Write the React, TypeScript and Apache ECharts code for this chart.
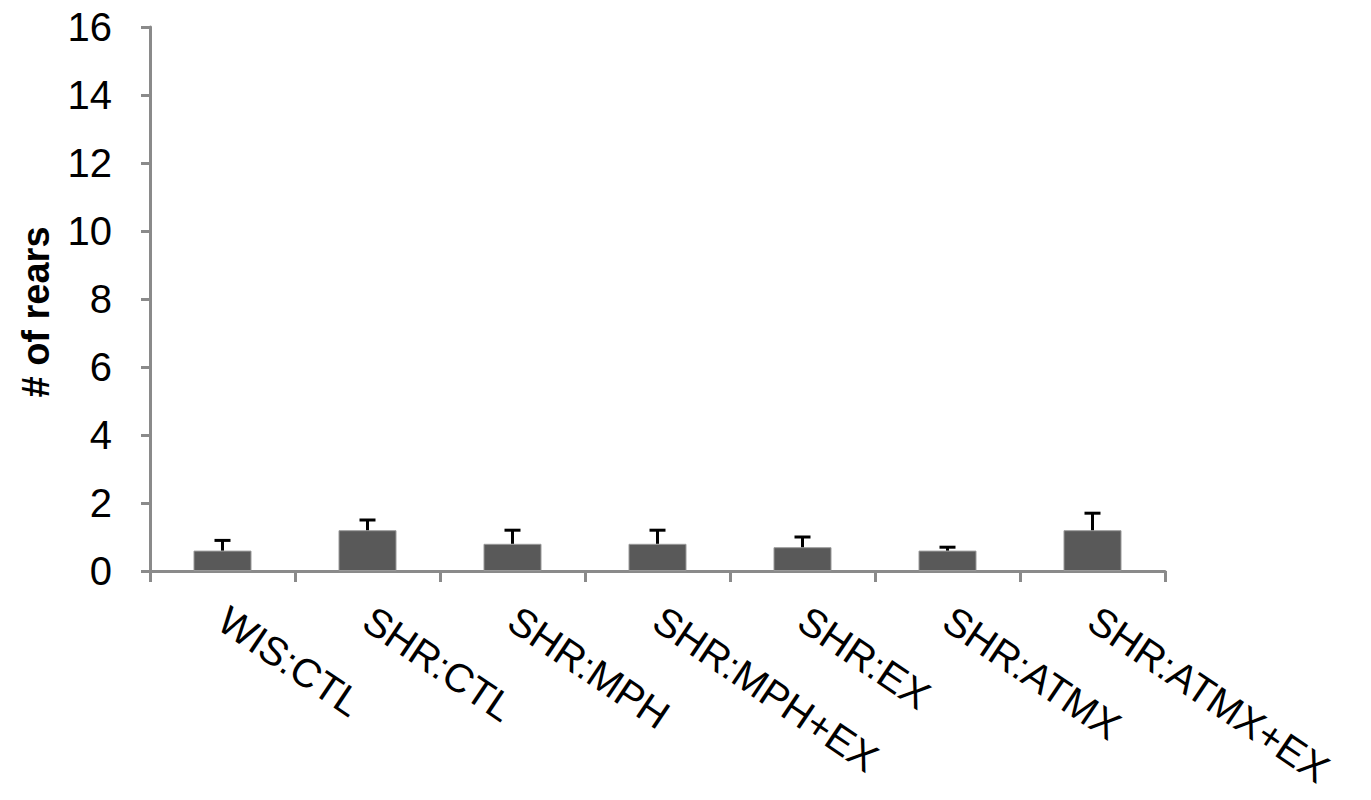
import React, { useEffect, useRef } from "react";
import * as echarts from "echarts";

const categories = ["WIS:CTL", "SHR:CTL", "SHR:MPH", "SHR:MPH+EX", "SHR:EX", "SHR:ATMX", "SHR:ATMX+EX"];
const means = [0.6, 1.2, 0.8, 0.8, 0.7, 0.6, 1.2];
const errors = [0.3, 0.3, 0.4, 0.4, 0.3, 0.1, 0.5];
const yTicks = { min: 0, max: 16, interval: 2 };
const yTitle = "# of rears";

const FONT = "Liberation Sans, Arial, sans-serif";

export default function App() {
  const ref = useRef<HTMLDivElement>(null);
  useEffect(() => {
    if (!ref.current) return;
    const chart = echarts.init(ref.current, null, { renderer: "svg" });
    const errData = means.map((m, i) => [i, m, m + errors[i]]);
    chart.setOption({
      animation: false,
      grid: { left: 150, top: 27, right: 206, bottom: 229, containLabel: false },
      graphic: [
        {
          type: "text",
          x: 36,
          y: 312,
          rotation: Math.PI / 2,
          style: {
            text: yTitle,
            fill: "#000",
            font: `bold 38px ${FONT}`,
            align: "center",
            verticalAlign: "middle",
          },
        },
      ],
      xAxis: {
        type: "category",
        data: categories,
        boundaryGap: true,
        axisLine: { show: true, lineStyle: { color: "#8a8a8a", width: 3 } },
        axisTick: { show: true, length: 11, lineStyle: { color: "#8a8a8a", width: 3 } },
        axisLabel: {
          interval: 0,
          rotate: -34,
          margin: 45,
          color: "#000",
          fontSize: 40,
          fontFamily: FONT,
        },
      },
      yAxis: {
        type: "value",
        min: yTicks.min,
        max: yTicks.max,
        interval: yTicks.interval,
        splitLine: { show: false },
        axisLine: { show: true, lineStyle: { color: "#8a8a8a", width: 3 } },
        axisTick: { show: true, length: 9, lineStyle: { color: "#8a8a8a", width: 3 } },
        axisLabel: {
          margin: 38,
          color: "#000",
          fontSize: 40,
          fontFamily: FONT,
        },
      },
      series: [
        {
          type: "bar",
          data: means,
          barWidth: "40%",
          itemStyle: { color: "#595959", borderColor: "#9a9a9a", borderWidth: 1 },
          z: 2,
        },
        {
          type: "custom",
          data: errData,
          z: 3,
          renderItem: (params: any, api: any) => {
            const x = api.value(0);
            const low = api.coord([x, api.value(1)]);
            const high = api.coord([x, api.value(2)]);
            const half = 8;
            return {
              type: "group",
              children: [
                {
                  type: "line",
                  shape: { x1: low[0], y1: low[1], x2: high[0], y2: high[1] },
                  style: { stroke: "#000", lineWidth: 3 },
                },
                {
                  type: "line",
                  shape: { x1: high[0] - half, y1: high[1], x2: high[0] + half, y2: high[1] },
                  style: { stroke: "#000", lineWidth: 3 },
                },
              ],
            };
          },
        },
      ],
    });
    return () => chart.dispose();
  }, []);
  return (
    <div
      ref={ref}
      style={{ position: "fixed", left: 0, top: 0, width: 1371, height: 800, background: "#fff" }}
    />
  );
}
